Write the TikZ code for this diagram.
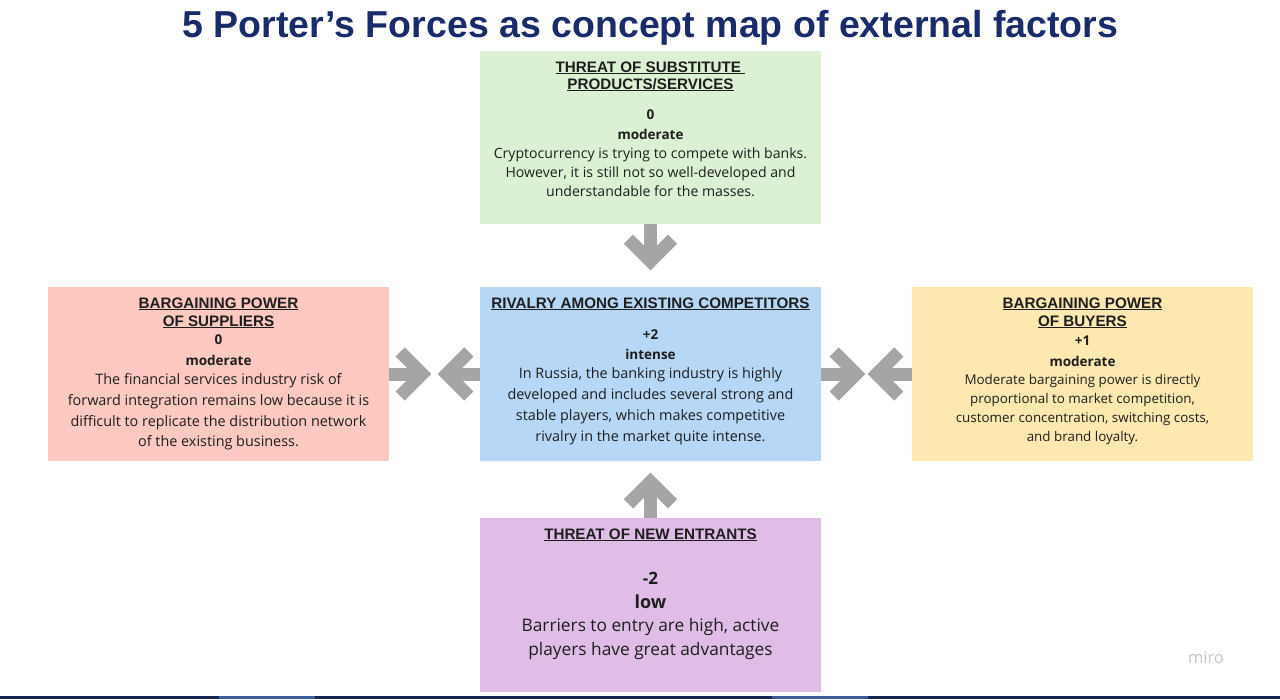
\documentclass[tikz,border=0pt]{standalone}
\usepackage{fontspec}
\usetikzlibrary{calc}
\setmainfont{Open Sans}
\newfontfamily\arialf{Liberation Sans}
\definecolor{titleblue}{HTML}{1A2B6B}
\definecolor{txt}{HTML}{1E1E1E}
\definecolor{gbox}{HTML}{DCF1D4}
\definecolor{bbox}{HTML}{B6D7F6}
\definecolor{pbox}{HTML}{FDC9C1}
\definecolor{ybox}{HTML}{FDE8B0}
\definecolor{vbox}{HTML}{E0BDE6}
\definecolor{arrowgrey}{HTML}{A5A5A5}
\definecolor{bandnavy}{HTML}{16264F}
\definecolor{bandlight}{HTML}{3B5C9A}
\newcommand{\ulh}[1]{\setbox0\hbox{#1}\rlap{\rule[-1.8pt]{\wd0}{1pt}}\box0}
\tikzset{
  forcebox/.style={draw=none, minimum width=341pt, minimum height=174pt, inner sep=0pt},
  headtxt/.style={font=\arialf\bfseries\fontsize{15.2}{17.5}\selectfont, text=txt, align=center, inner sep=0pt},
  scoretxt/.style={font=\bfseries\fontsize{13.5}{16}\selectfont, text=txt, inner sep=0pt},
  bodytxt/.style={text=txt, align=center, inner sep=0pt},
  fatarrow/.style={draw=arrowgrey, line width=13pt, miter limit=10}
}
\begin{document}
\begin{tikzpicture}[x=1pt, y=-1pt]
\useasboundingbox[fill=white] (0,0) rectangle (1280,699);
% bottom band
\fill[bandnavy] (0,696) rectangle (1280,699);
\fill[bandlight] (219,696) rectangle (315,699);
\fill[bandlight] (772,696) rectangle (868,699);
% title
\node[font=\arialf\bfseries\fontsize{37.5}{40}\selectfont, text=titleblue, inner sep=0pt] (title) at (650.5,27.5) {5 Porter’s Forces as concept map of external factors};
% boxes
\node[forcebox, fill=gbox, minimum height=173pt] (sub) at (650.5,137.5) {};
\node[forcebox, fill=bbox] (riv) at (650.5,374) {};
\node[forcebox, fill=pbox] (sup) at (218.5,374) {};
\node[forcebox, fill=ybox] (buy) at (1082.5,374) {};
\node[forcebox, fill=vbox] (ent) at (650.5,605) {};
% top box texts
\node[headtxt] (subh) at (650.5,76.5) {\ulh{THREAT OF SUBSTITUTE }\\\ulh{PRODUCTS/SERVICES}};
\node[scoretxt] (subs) at (650.5,115) {0};
\node[scoretxt] (subl) at (650.5,134) {moderate};
\node[bodytxt, font=\fontsize{14.1}{19}\selectfont] (subb) at (650.5,172) {Cryptocurrency is trying to compete with banks.\\However, it is still not so well-developed and\\understandable for the masses.};
% center box texts
\node[headtxt] (rivh) at (650.5,304) {\ulh{RIVALRY AMONG EXISTING COMPETITORS}};
\node[scoretxt] (rivs) at (650.5,335) {+2};
\node[scoretxt] (rivl) at (650.5,354) {intense};
\node[bodytxt, font=\fontsize{14.4}{21}\selectfont] (rivb) at (650.5,406.5) {In Russia, the banking industry is highly\\developed and includes several strong and\\stable players, which makes competitive\\rivalry in the market quite intense.};
% left box texts
\node[headtxt, font=\arialf\bfseries\fontsize{15.2}{18}\selectfont] (suph) at (218.5,313) {\ulh{BARGAINING POWER}\\\ulh{OF SUPPLIERS}};
\node[scoretxt] (sups) at (218.5,340) {0};
\node[scoretxt] (supl) at (218.5,360) {moderate};
\node[bodytxt, font=\fontsize{14.4}{20.7}\selectfont] (supb) at (218.5,412) {The financial services industry risk of\\forward integration remains low because it is\\difficult to replicate the distribution network\\of the existing business.};
% right box texts
\node[headtxt, font=\arialf\bfseries\fontsize{15.2}{18}\selectfont] (buyh) at (1082.5,313) {\ulh{BARGAINING POWER}\\\ulh{OF BUYERS}};
\node[scoretxt] (buys) at (1082.5,341) {+1};
\node[scoretxt] (buyl) at (1082.5,361) {moderate};
\node[bodytxt, font=\fontsize{13.4}{19}\selectfont] (buyb) at (1082.5,409.5) {Moderate bargaining power is directly\\proportional to market competition,\\customer concentration, switching costs,\\and brand loyalty.};
% bottom box texts
\node[headtxt] (enth) at (650.5,535) {\ulh{THREAT OF NEW ENTRANTS}};
\node[scoretxt, font=\bfseries\fontsize{17}{20}\selectfont] (ents) at (650.5,578) {-2};
\node[scoretxt, font=\bfseries\fontsize{18}{20}\selectfont] (entl) at (650.5,602) {low};
\node[bodytxt, font=\fontsize{17.3}{24}\selectfont] (entb) at (650.5,639) {Barriers to entry are high, active\\players have great advantages};
% miro
\node[font=\fontsize{16.5}{18}\selectfont, text=black!22, inner sep=0pt] (miro) at (1206,658) {miro};
% arrows: top (down)
\coordinate (dtip) at ($(sub.south)+(0,37)$);
\draw[fatarrow] (sub.south) -- (dtip);
\draw[fatarrow] ($(dtip)+(-22,-22)$) -- (dtip) -- ($(dtip)+(22,-22)$);
% bottom (up)
\coordinate (utip) at ($(ent.north)+(0,-36)$);
\draw[fatarrow] (ent.north) -- (utip);
\draw[fatarrow] ($(utip)+(-22,22)$) -- (utip) -- ($(utip)+(22,22)$);
% left pair
\coordinate (l1tip) at ($(sup.east)+(33,0)$);
\draw[fatarrow] (sup.east) -- (l1tip);
\draw[fatarrow] ($(l1tip)+(-22,-22)$) -- (l1tip) -- ($(l1tip)+(-22,22)$);
\coordinate (l2tip) at ($(riv.west)+(-33,0)$);
\draw[fatarrow] (riv.west) -- (l2tip);
\draw[fatarrow] ($(l2tip)+(22,-22)$) -- (l2tip) -- ($(l2tip)+(22,22)$);
% right pair
\coordinate (r1tip) at ($(riv.east)+(35,0)$);
\draw[fatarrow] (riv.east) -- (r1tip);
\draw[fatarrow] ($(r1tip)+(-22,-22)$) -- (r1tip) -- ($(r1tip)+(-22,22)$);
\coordinate (r2tip) at ($(buy.west)+(-35,0)$);
\draw[fatarrow] (buy.west) -- (r2tip);
\draw[fatarrow] ($(r2tip)+(22,-22)$) -- (r2tip) -- ($(r2tip)+(22,22)$);
\end{tikzpicture}
\end{document}
